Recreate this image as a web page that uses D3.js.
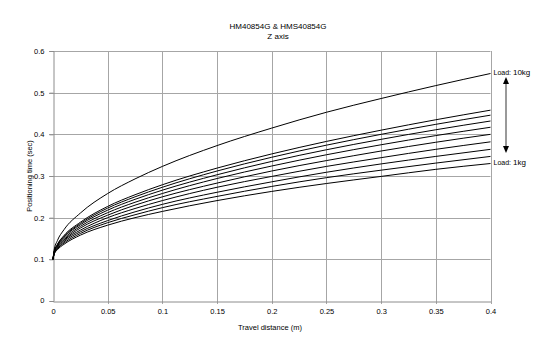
<!DOCTYPE html>
<html>
<head>
<meta charset="utf-8">
<script src="https://cdn.jsdelivr.net/npm/d3@7"></script>
<style>
  body { margin: 0; background: #fff; }
  svg { display: block; font-family: "Liberation Sans", Arial, sans-serif; }
  .tick text { fill: #000; }
</style>
</head>
<body>
<div id="chart"></div>
<script>
const distance = [0, 0.001, 0.004, 0.01, 0.025, 0.05, 0.075, 0.1, 0.15, 0.2, 0.25, 0.3, 0.35, 0.4];

// Positioning time (sec) per load
const time10kg = [0.1, 0.122, 0.145, 0.171, 0.211, 0.258, 0.293, 0.323, 0.373, 0.415, 0.453, 0.486, 0.517, 0.546];
const time9kg  = [0.1, 0.118, 0.136, 0.157, 0.189, 0.227, 0.255, 0.279, 0.319, 0.353, 0.383, 0.410, 0.435, 0.458];
const time8kg  = [0.1, 0.117, 0.135, 0.155, 0.186, 0.223, 0.250, 0.273, 0.312, 0.345, 0.374, 0.400, 0.424, 0.446];
const time7kg  = [0.1, 0.117, 0.133, 0.153, 0.183, 0.218, 0.244, 0.266, 0.303, 0.335, 0.363, 0.388, 0.411, 0.432];
const time6kg  = [0.1, 0.116, 0.132, 0.150, 0.179, 0.212, 0.237, 0.258, 0.294, 0.324, 0.351, 0.375, 0.397, 0.417];
const time5kg  = [0.1, 0.115, 0.130, 0.147, 0.175, 0.206, 0.230, 0.250, 0.283, 0.312, 0.337, 0.360, 0.381, 0.400];
const time4kg  = [0.1, 0.114, 0.128, 0.145, 0.170, 0.200, 0.222, 0.241, 0.273, 0.299, 0.323, 0.344, 0.364, 0.382];
const time3kg  = [0.1, 0.113, 0.126, 0.142, 0.166, 0.193, 0.214, 0.232, 0.261, 0.286, 0.309, 0.329, 0.347, 0.364];
const time2kg  = [0.1, 0.112, 0.125, 0.139, 0.162, 0.188, 0.207, 0.224, 0.251, 0.275, 0.296, 0.314, 0.331, 0.347];
const time1kg  = [0.1, 0.112, 0.123, 0.136, 0.158, 0.182, 0.200, 0.215, 0.241, 0.263, 0.282, 0.299, 0.316, 0.330];

const xTicks = [0, 0.05, 0.1, 0.15, 0.2, 0.25, 0.3, 0.35, 0.4];
const yTicks = [0, 0.1, 0.2, 0.3, 0.4, 0.5, 0.6];

const width = 550, height = 352;
const margin = { top: 51, right: 60, bottom: 51, left: 53 };

const series = [time10kg, time9kg, time8kg, time7kg, time6kg, time5kg, time4kg, time3kg, time2kg, time1kg]
  .map(times => times.map((t, i) => ({ x: distance[i], y: t })));

const svg = d3.select("#chart")
  .append("svg")
  .attr("width", width)
  .attr("height", height);

const xScale = d3.scaleLinear()
  .domain([0, 0.4])
  .range([margin.left, width - margin.right + 0.5]);

const yScale = d3.scaleLinear()
  .domain([0, 0.6])
  .range([height - margin.bottom, margin.top]);

const gridColour = "#a6a6a6";

// Gridlines (behind curves)
svg.append("g")
  .selectAll("line.vgrid")
  .data(xTicks.slice(1))
  .join("line")
    .attr("x1", d => Math.round(xScale(d)) + 0.5)
    .attr("x2", d => Math.round(xScale(d)) + 0.5)
    .attr("y1", yScale(0.6))
    .attr("y2", yScale(0) + 3)
    .attr("stroke", gridColour);

svg.append("g")
  .selectAll("line.hgrid")
  .data(yTicks.slice(1))
  .join("line")
    .attr("x1", xScale(0) - 4)
    .attr("x2", xScale(0.4))
    .attr("y1", d => Math.round(yScale(d)) + 0.5)
    .attr("y2", d => Math.round(yScale(d)) + 0.5)
    .attr("stroke", gridColour);

// Axes
const xAxis = svg.append("g")
  .attr("transform", `translate(0, ${Math.round(yScale(0)) + 0.5})`)
  .call(d3.axisBottom(xScale).tickValues(xTicks).tickSize(0).tickPadding(7).tickFormat(d => String(d)));
xAxis.select(".domain").attr("stroke", "#8c8c8c");
xAxis.selectAll("text").attr("font-size", 7.5).attr("font-family", "Liberation Sans, Arial, sans-serif");

const yAxis = svg.append("g")
  .attr("transform", `translate(${Math.round(xScale(0)) + 0.5}, 0)`)
  .call(d3.axisLeft(yScale).tickValues(yTicks).tickSize(4).tickPadding(5).tickFormat(d => String(d)));
yAxis.select(".domain").attr("stroke", "#8c8c8c");
yAxis.selectAll(".tick line").attr("stroke", "#8c8c8c");
yAxis.selectAll("text").attr("font-size", 7.5).attr("font-family", "Liberation Sans, Arial, sans-serif");
yAxis.selectAll(".tick").filter(d => d === 0).select("text").attr("dy", "0.2em");

// Curves
const line = d3.line()
  .x(d => xScale(d.x))
  .y(d => yScale(d.y))
  .curve(d3.curveMonotoneX);

svg.append("g")
  .selectAll("path")
  .data(series)
  .join("path")
    .attr("d", line)
    .attr("fill", "none")
    .attr("stroke", "#000")
    .attr("stroke-width", 1);

// Titles
svg.append("text")
  .attr("x", 278).attr("y", 29)
  .attr("text-anchor", "middle")
  .attr("font-size", 8)
  .text("HM40854G & HMS40854G");
svg.append("text")
  .attr("x", 278).attr("y", 39)
  .attr("text-anchor", "middle")
  .attr("font-size", 8)
  .text("Z axis");

svg.append("text")
  .attr("x", 270).attr("y", 330)
  .attr("text-anchor", "middle")
  .attr("font-size", 7.5)
  .text("Travel distance (m)");

svg.append("text")
  .attr("transform", `translate(32, ${(yScale(0) + yScale(0.6)) / 2}) rotate(-90)`)
  .attr("text-anchor", "middle")
  .attr("font-size", 7.5)
  .text("Positioning time (sec)");

// Load annotation
const loadLabel = (kg, y) => {
  const t = svg.append("text")
    .attr("x", xScale(0.4) + 3)
    .attr("y", y)
    .attr("dominant-baseline", "middle")
    .attr("font-size", 7);
  t.append("tspan").text("Load: ");
  t.append("tspan").attr("font-size", 8).text(kg);
};
loadLabel("10kg", yScale(time10kg[time10kg.length - 1]) - 1);
loadLabel("1kg", yScale(time1kg[time1kg.length - 1]) - 1);

const arrowX = 506;
svg.append("line")
  .attr("x1", arrowX).attr("x2", arrowX)
  .attr("y1", 82).attr("y2", 148)
  .attr("stroke", "#555")
  .attr("stroke-width", 1.2);
svg.append("path")
  .attr("d", `M${arrowX},77 L${arrowX - 3},84 L${arrowX + 3},84 Z`)
  .attr("fill", "#000");
svg.append("path")
  .attr("d", `M${arrowX},153 L${arrowX - 3},146 L${arrowX + 3},146 Z`)
  .attr("fill", "#000");
</script>
</body>
</html>
